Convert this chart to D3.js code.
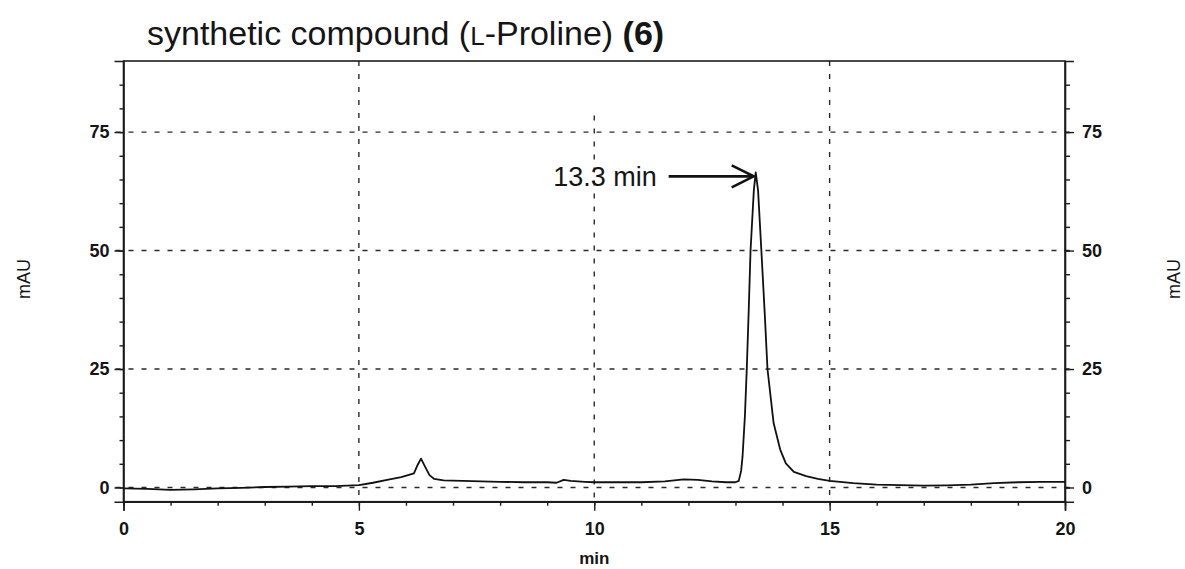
<!DOCTYPE html>
<html>
<head>
<meta charset="utf-8">
<script src="https://cdn.jsdelivr.net/npm/d3@7"></script>
<style>
  body { margin: 0; background: #fff; }
  svg { display: block; }
  text { font-family: "Liberation Sans", Arial, sans-serif; fill: #151515; }
</style>
</head>
<body>
<svg id="chart" width="1185" height="569"></svg>
<script>
// ---- data ----
const timeMin = [0, 0.5, 1.0, 1.5, 2.0, 2.5, 3.0, 3.5, 4.0, 4.5, 5.0, 5.3, 5.6, 5.9, 6.17, 6.25, 6.32, 6.4, 6.5, 6.6, 6.8, 7.2, 7.6, 8.0, 8.5, 9.0, 9.2, 9.35, 9.5, 9.8, 10.0, 10.5, 11.0, 11.5, 11.9, 12.2, 12.5, 12.8, 13.0, 13.07, 13.12, 13.15, 13.2, 13.24, 13.28, 13.32, 13.39, 13.43, 13.48, 13.55, 13.62, 13.68, 13.81, 13.95, 14.07, 14.24, 14.5, 14.75, 15.0, 15.5, 16.0, 16.5, 17.0, 17.5, 18.0, 18.5, 19.0, 19.5, 20.0];
const absorbance = [-0.2, -0.3, -0.5, -0.4, -0.2, -0.1, 0.1, 0.2, 0.3, 0.3, 0.5, 1.0, 1.6, 2.2, 3.0, 4.8, 6.1, 4.5, 2.6, 1.8, 1.5, 1.4, 1.3, 1.2, 1.1, 1.1, 1.0, 1.6, 1.4, 1.2, 1.1, 1.1, 1.1, 1.3, 1.7, 1.6, 1.3, 1.1, 1.1, 1.4, 3.5, 6.5, 15, 25, 37, 50, 62.7, 66.5, 62.7, 50, 37, 25, 13.6, 8, 5.1, 3.3, 2.4, 1.8, 1.4, 0.9, 0.6, 0.5, 0.4, 0.45, 0.6, 0.9, 1.1, 1.2, 1.2];
const xMajorTicks = [0, 5, 10, 15, 20];
const xMinorTicks = d3.range(0, 21, 1);
const yMajorTicks = [0, 25, 50, 75];
const yMinorTicks = d3.range(0, 90, 5);
const xGrid = [5, 10, 15];
const yGrid = [0, 25, 50, 75];
const titleParts = ["synthetic compound (", "L", "-Proline) ", "(6)"];
const xLabel = "min";
const yLabel = "mAU";
const peakLabel = "13.3 min";
const peakTime = 13.43, peakValue = 66.5;
const arrowStartTime = 11.58;
const labelEndTime = 11.33;

// ---- layout ----
const svg = d3.select("#chart");
const L = 123.5, R = 1065, T = 61, B = 501.7;
const x = d3.scaleLinear().domain([0, 20]).range([L, R]);
const y = d3.scaleLinear().domain([-3, 90]).range([B, T]);
const ink = "#1c1c1c";

// grid lines (dashed)
const grid = svg.append("g").attr("stroke", "#2a2a2a").attr("stroke-width", 1.4).attr("stroke-dasharray", "5,8");
grid.selectAll("line.h").data(yGrid).join("line")
  .attr("x1", L - 8).attr("x2", R + 8)
  .attr("y1", d => y(d)).attr("y2", d => y(d));
grid.selectAll("line.v").data(xGrid).join("line")
  .attr("x1", d => x(d)).attr("x2", d => x(d))
  .attr("y1", d => d === 10 ? y(78.5) : T).attr("y2", B);

// frame
svg.append("rect").attr("x", L).attr("y", T).attr("width", R - L).attr("height", B - T)
  .attr("fill", "none").attr("stroke", ink).attr("stroke-width", 1.6);

// bottom axis
svg.append("g").attr("transform", `translate(0,${B})`)
  .call(d3.axisBottom(x).tickValues(xMajorTicks).tickSize(9).tickPadding(12).tickFormat(d3.format("d")));
svg.append("g").attr("transform", `translate(0,${B})`)
  .call(d3.axisBottom(x).tickValues(xMinorTicks).tickSize(4).tickFormat(""))
  .call(g => g.select(".domain").remove());
// left axis
svg.append("g").attr("transform", `translate(${L},0)`)
  .call(d3.axisLeft(y).tickValues(yMajorTicks).tickSize(9).tickPadding(5).tickFormat(d3.format("d")));
svg.append("g").attr("transform", `translate(${L},0)`)
  .call(d3.axisLeft(y).tickValues(yMinorTicks).tickSize(4).tickFormat(""))
  .call(g => g.select(".domain").remove());
// right axis
svg.append("g").attr("transform", `translate(${R},0)`)
  .call(d3.axisRight(y).tickValues(yMajorTicks).tickSize(9).tickPadding(8).tickFormat(d3.format("d")));
svg.append("g").attr("transform", `translate(${R},0)`)
  .call(d3.axisRight(y).tickValues(yMinorTicks).tickSize(5).tickFormat(""))
  .call(g => g.select(".domain").remove());

svg.selectAll(".domain").attr("stroke", ink).attr("stroke-width", 1.6);
svg.selectAll(".tick line").attr("stroke", ink).attr("stroke-width", 1.4);
svg.selectAll(".tick text").attr("font-size", 18).attr("font-weight", "bold")
  .attr("font-family", "'Liberation Sans', Arial, sans-serif").attr("fill", "#151515");

// axis labels
svg.append("text").attr("x", x(10)).attr("y", 564).attr("text-anchor", "middle")
  .attr("font-size", 17).attr("font-weight", "bold").text(xLabel);
svg.append("text").attr("transform", `translate(30,${y(44)}) rotate(-90)`)
  .attr("text-anchor", "middle").attr("font-size", 18).text(yLabel);
svg.append("text").attr("transform", `translate(1180,${y(44)}) rotate(-90)`)
  .attr("text-anchor", "middle").attr("font-size", 18).text(yLabel);

// title
const title = svg.append("text").attr("x", 147).attr("y", 45).attr("font-size", 34);
title.append("tspan").text(titleParts[0]);
title.append("tspan").attr("font-size", 26).text(titleParts[1]);
title.append("tspan").text(titleParts[2]);
title.append("tspan").attr("font-weight", "bold").text(titleParts[3]);

// chromatogram trace
const pts = timeMin.map((t, i) => [t, absorbance[i]]);
svg.append("path").datum(pts)
  .attr("fill", "none").attr("stroke", "#111").attr("stroke-width", 1.8).attr("stroke-linejoin", "round")
  .attr("d", d3.line().x(d => x(d[0])).y(d => y(d[1])).curve(d3.curveLinear));

// annotation
const tipX = x(peakTime) - 2, tipY = y(peakValue) + 4;
svg.append("line").attr("x1", x(arrowStartTime)).attr("x2", tipX - 1)
  .attr("y1", tipY).attr("y2", tipY).attr("stroke", "#111").attr("stroke-width", 2.6);
svg.append("path")
  .attr("d", `M${tipX - 22},${tipY - 11} L${tipX},${tipY} L${tipX - 22},${tipY + 11}`)
  .attr("fill", "none").attr("stroke", "#111").attr("stroke-width", 2.6);
svg.append("text").attr("x", x(labelEndTime)).attr("y", tipY + 10).attr("text-anchor", "end")
  .attr("font-size", 27).text(peakLabel);
</script>
</body>
</html>
